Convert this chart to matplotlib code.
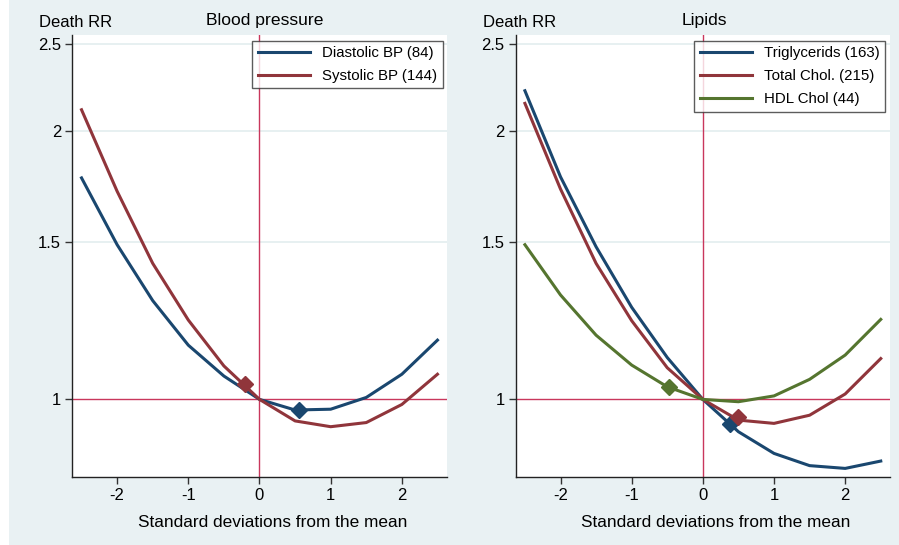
import matplotlib
matplotlib.use("Agg")
from matplotlib import pyplot as plt
from matplotlib.patches import Rectangle
import numpy as np

plt.rcParams['font.family'] = ['Liberation Sans', 'DejaVu Sans']

# half standard deviation steps
sd = [-2.5, -2, -1.5, -1, -0.5, 0, 0.5, 1, 1.5, 2, 2.5]

# blood pressure panel
diastolic = [1.77, 1.49, 1.29, 1.15, 1.062, 1.0, 0.973, 0.975, 1.005, 1.067, 1.165]
systolic = [2.11, 1.71, 1.42, 1.227, 1.09, 1.0, 0.946, 0.932, 0.942, 0.987, 1.067]
diastolic_mark = (0.56, 0.973)
systolic_mark = (-0.21, 1.04)

# lipids panel
trig = [2.216, 1.775, 1.482, 1.268, 1.114, 1.0, 0.92, 0.87, 0.843, 0.837, 0.853]
tchol = [2.145, 1.72, 1.42, 1.225, 1.085, 1.0, 0.948, 0.94, 0.96, 1.014, 1.111]
hdl = [1.49, 1.309, 1.18, 1.0925, 1.033, 1.0, 0.994, 1.009, 1.053, 1.121, 1.229]
trig_mark = (0.38, 0.938)
tchol_mark = (0.5, 0.955)
hdl_mark = (-0.47, 1.033)

yticks = [1, 1.5, 2, 2.5]
ytick_labels = ['1', '1.5', '2', '2.5']
xticks = [-2, -1, 0, 1, 2]

navy = '#1a476f'
maroon = '#90353b'
green = '#55752f'
refc = '#c9375c'
bg = '#e9f1f3'

fig = plt.figure(figsize=(8.99, 5.45), dpi=100, facecolor=bg)
fig.patches.append(Rectangle((0, 0), 9 / 899, 1, transform=fig.transFigure,
                             facecolor='white', edgecolor='none', zorder=-1))


def setup(ax, title, title_x):
    ax.set_yscale('log')
    ax.set_xlim(-2.63, 2.63)
    ax.set_ylim(0.818, 2.56)
    ax.set_yticks(yticks)
    ax.set_yticklabels(ytick_labels)
    ax.yaxis.set_minor_locator(matplotlib.ticker.NullLocator())
    ax.set_xticks(xticks)
    ax.set_xticklabels([str(t) for t in xticks])
    for y in yticks[1:]:
        ax.axhline(y, color='#e3edef', lw=1.2, zorder=0)
    ax.axhline(1, color=refc, lw=1.0, zorder=1)
    ax.axvline(0, color=refc, lw=1.0, zorder=1)
    for s in ['top', 'right']:
        ax.spines[s].set_visible(False)
    for s in ['left', 'bottom']:
        ax.spines[s].set_color('#222222')
        ax.spines[s].set_linewidth(1.0)
    ax.tick_params(axis='both', direction='out', length=5, width=1,
                   color='#333333', labelsize=12, pad=3)
    ax.set_xlabel('Standard deviations from the mean', fontsize=12.4)
    ax.xaxis.set_label_coords(0.535, -0.101)
    ax.xaxis.label.set_va('center')
    ax.text(title_x, 1.032, title, transform=ax.transAxes, fontsize=12.6,
            ha='center', va='center')
    ax.text(-0.088, 1.0287, 'Death RR', transform=ax.transAxes, fontsize=12,
            ha='left', va='center')


def legend(ax, anchor):
    leg = ax.legend(loc='upper right', bbox_to_anchor=anchor, fontsize=10.8,
                    frameon=True, fancybox=False, edgecolor='#333333',
                    handlelength=3.5, handletextpad=0.8, borderpad=0.35,
                    labelspacing=0.62, borderaxespad=0)
    leg.get_frame().set_linewidth(1.0)


ax1 = fig.add_axes([0.0804, 0.1242, 0.4165, 0.812])
setup(ax1, 'Blood pressure', 0.513)
ax1.plot(sd, diastolic, color=navy, lw=2.2, label='Diastolic BP (84)', zorder=3)
ax1.plot(sd, systolic, color=maroon, lw=2.2, label='Systolic BP (144)', zorder=3)
ax1.plot(*diastolic_mark, marker='D', color=navy, ms=8, zorder=4)
ax1.plot(*systolic_mark, marker='D', color=maroon, ms=8, zorder=4)
legend(ax1, (0.989, 0.987))

ax2 = fig.add_axes([0.5736, 0.1242, 0.4164, 0.812])
setup(ax2, 'Lipids', 0.505)
ax2.plot(sd, trig, color=navy, lw=2.2, label='Triglycerids (163)', zorder=3)
ax2.plot(sd, tchol, color=maroon, lw=2.2, label='Total Chol. (215)', zorder=3)
ax2.plot(sd, hdl, color=green, lw=2.2, label='HDL Chol (44)', zorder=3)
ax2.plot(*trig_mark, marker='D', color=navy, ms=8, zorder=4)
ax2.plot(*tchol_mark, marker='D', color=maroon, ms=8, zorder=4)
ax2.plot(*hdl_mark, marker='D', color=green, ms=8, zorder=4)
legend(ax2, (0.987, 0.987))

fig.savefig('out.png', dpi=100, facecolor=bg)
